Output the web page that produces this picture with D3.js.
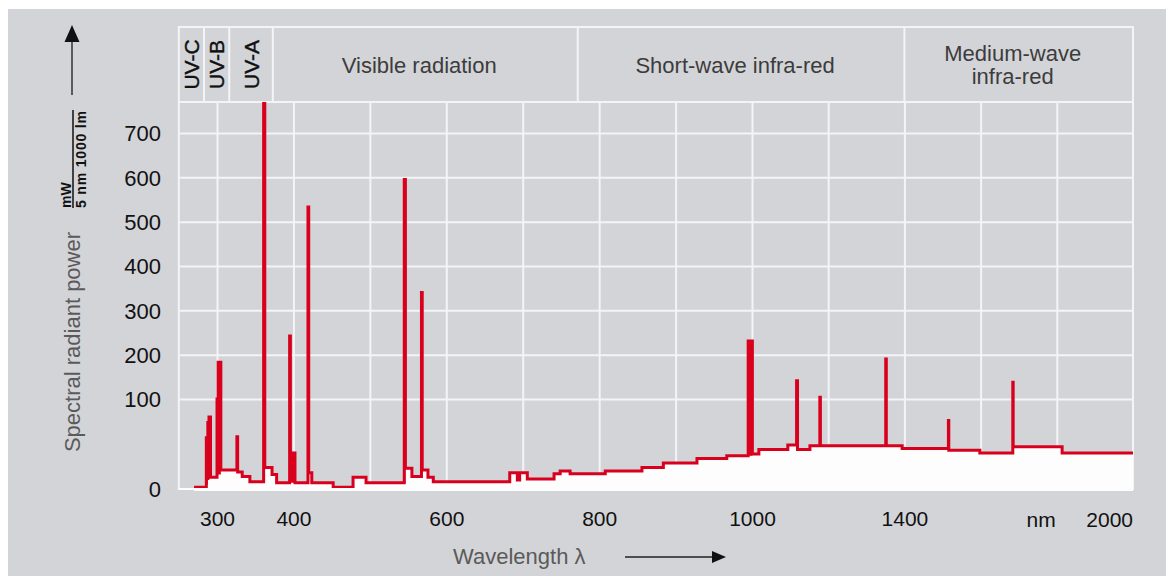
<!DOCTYPE html>
<html><head><meta charset="utf-8">
<script src="https://cdn.jsdelivr.net/npm/d3@7/dist/d3.min.js"></script>
<style>
html,body{margin:0;padding:0;background:#ffffff;}
svg{display:block;font-family:"Liberation Sans",Arial,Helvetica,sans-serif;}
</style></head><body>
<svg id="chart" width="1166" height="576"></svg>
<script>
// ---- data ----
const wavelength = [270, 286, 288, 289.5, 291.5, 300, 301.5, 305, 326, 327, 333, 343, 361, 362.5, 372, 378, 395, 396, 402, 419, 420, 424, 452, 478, 495, 545, 546.5, 555, 567.5, 568.5, 576, 583, 683, 693, 696, 706, 741, 749, 762, 808, 856, 884, 928, 967, 995, 1001, 1018, 1094, 1117, 1119.5, 1152, 1178, 1179.5, 1351, 1352.5, 1394, 1515.5, 1516.5, 1598, 1684.5, 1685.5, 1814, 2000];
const power      = [2, 57, 74, 80, 13, 100, 183, 21, 58, 19, 14, 8, 800, 24, 16, 7, 242, 40, 7, 533, 18, 7, 2, 13, 7, 595, 23, 14, 340, 21, 13, 8, 18, 10, 18, 11, 17, 20, 17, 20, 24, 29, 34, 37, 231, 39, 44, 49, 141, 44, 48, 104, 48, 190, 48, 45, 76, 43, 40, 138, 47, 40, 40];
const continuumWavelength = [270, 286, 288, 290, 300, 305, 327, 333, 343, 362.5, 372, 378, 420, 424, 452, 478, 495, 546.5, 555, 568.5, 576, 583, 683, 693, 696, 706, 741, 749, 762, 808, 856, 884, 928, 967, 1001, 1018, 1094, 1119.5, 1152, 1394, 1516.5, 1598, 1685.5, 1814, 2000];
const continuumPower      = [0, 5, 10, 13, 16, 21, 19, 14, 8, 24, 16, 7, 18, 7, 2, 13, 7, 23, 14, 21, 13, 8, 18, 10, 18, 11, 17, 20, 17, 20, 24, 29, 34, 37, 39, 44, 49, 44, 48, 45, 43, 40, 47, 40, 40];
const yTickValues = [0, 100, 200, 300, 400, 500, 600, 700];
const yGridValues = [100, 200, 300, 400, 500, 600, 700];
const xTickValues = [300, 400, 600, 800, 1000, 1400];
const xGridValues = [300, 400, 500, 600, 700, 800, 900, 1000, 1200, 1400, 1600, 1800];
const bandEdges = [250, 283, 316, 373, 772, 1400, 2000];
const bandNames = [["UV-C"], ["UV-B"], ["UV-A"], ["Visible radiation"], ["Short-wave infra-red"], ["Medium-wave", "infra-red"]];
const bandVertical = [true, true, true, false, false, false];

(function () {
// ---- layout ----
const svg = d3.select("#chart");
const pLeft = 178.8, pRight = 1133, bandTop = 27, pTop = 102, pBottom = 489;
const x = d3.scaleLinear().domain([250, 1000, 2000]).range([pLeft, 752, pRight]);
const y = d3.scaleLinear().domain([0, 100, 770]).range([pBottom, 399, pTop]);
const RED = "#d8001c", GRID = "#f4f4f6", BG = "#d3d4d8", WHITE = "#fdfdfe";

svg.append("rect").attr("x", 8).attr("y", 9).attr("width", 1158).attr("height", 567).attr("fill", BG);

// gridlines
svg.append("g").attr("transform", `translate(0,${pBottom})`)
  .call(d3.axisBottom(x).tickValues(xGridValues).tickSize(-(pBottom - pTop)).tickFormat(""))
  .call(g => g.select(".domain").remove())
  .call(g => g.selectAll("line").attr("stroke", GRID).attr("stroke-width", 2));
svg.append("g").attr("transform", `translate(${pLeft},0)`)
  .call(d3.axisLeft(y).tickValues(yGridValues).tickSize(-(pRight - pLeft)).tickFormat(""))
  .call(g => g.select(".domain").remove())
  .call(g => g.selectAll("line").attr("stroke", GRID).attr("stroke-width", 2));

// frame & band
const frame = svg.append("g").attr("stroke", GRID).attr("stroke-width", 2).attr("fill", "none");
frame.append("rect").attr("x", pLeft).attr("y", bandTop).attr("width", pRight - pLeft).attr("height", pBottom - bandTop);
frame.append("line").attr("x1", pLeft).attr("x2", pRight).attr("y1", pTop).attr("y2", pTop);
frame.selectAll("line.sep").data(bandEdges.slice(1, -1)).join("line").attr("class", "sep")
  .attr("x1", d => x(d)).attr("x2", d => x(d)).attr("y1", bandTop).attr("y2", pTop);

const bandG = svg.append("g");
bandNames.forEach((lines, i) => {
  const cx = (x(bandEdges[i]) + x(bandEdges[i + 1])) / 2;
  const cy = (bandTop + pTop) / 2;
  if (bandVertical[i]) {
    bandG.append("text").attr("transform", `translate(${cx + 7.5},${cy}) rotate(-90)`)
      .attr("text-anchor", "middle").attr("font-size", 21).attr("fill", "#111")
      .attr("stroke", "#111").attr("stroke-width", 0.4).text(lines[0]);
  } else {
    const n = lines.length;
    lines.forEach((t, j) => {
      bandG.append("text").attr("x", cx - 6).attr("y", cy + 8 + (j - (n - 1) / 2) * 23)
        .attr("text-anchor", "middle").attr("font-size", 22).attr("fill", "#3c3c3c").text(t);
    });
  }
});

// clip
svg.append("clipPath").attr("id", "plotclip").append("rect")
  .attr("x", pLeft).attr("y", pTop).attr("width", pRight - pLeft).attr("height", pBottom - pTop + 4);
const plot = svg.append("g").attr("clip-path", "url(#plotclip)");

const spec = wavelength.map((w, i) => [w, power[i]]);
const cont = continuumWavelength.map((w, i) => [w, continuumPower[i]]);

// solid red body of the lines
plot.append("path")
  .attr("d", d3.area().curve(d3.curveStepAfter).x(d => x(d[0])).y0(y(0)).y1(d => y(d[1]))(spec))
  .attr("fill", RED);
// continuum white fill
plot.append("path")
  .attr("d", d3.area().curve(d3.curveStepAfter).x(d => x(d[0])).y0(y(0) + 2).y1(d => y(d[1]))(cont))
  .attr("fill", WHITE);
svg.append("line").attr("x1", pLeft).attr("x2", pRight).attr("y1", pBottom).attr("y2", pBottom)
  .attr("stroke", WHITE).attr("stroke-width", 2);
// red outline
plot.append("path")
  .attr("d", d3.line().curve(d3.curveStepAfter).x(d => x(d[0])).y(d => y(d[1]))(spec))
  .attr("fill", "none").attr("stroke", RED).attr("stroke-width", 3).attr("stroke-linejoin", "miter");

// y tick labels
svg.append("g").attr("transform", `translate(161,0)`)
  .call(d3.axisLeft(y).tickValues(yTickValues).tickSize(0).tickPadding(0))
  .call(g => g.select(".domain").remove())
  .call(g => g.selectAll("text").attr("font-size", 22).attr("fill", "#111")
    .attr("font-family", '"Liberation Sans",Arial,sans-serif').attr("dy", "0.36em"));

// x tick labels
svg.append("g").attr("transform", `translate(0,${pBottom})`)
  .call(d3.axisBottom(x).tickValues(xTickValues).tickFormat(d3.format("d")).tickSize(0).tickPadding(22))
  .call(g => g.select(".domain").remove())
  .call(g => g.selectAll("text").attr("font-size", 21).attr("fill", "#111")
    .attr("font-family", '"Liberation Sans",Arial,sans-serif'));
svg.append("text").attr("x", x(1800) - 1).attr("y", 527).attr("text-anchor", "end")
  .attr("font-size", 21).attr("fill", "#111").text("nm");
svg.append("text").attr("x", x(2000)).attr("y", 527).attr("text-anchor", "end")
  .attr("font-size", 21).attr("fill", "#111").text("2000");

// y axis title, unit, arrow
svg.append("text").attr("transform", "translate(80,342) rotate(-90)").attr("text-anchor", "middle")
  .attr("font-size", 22).attr("fill", "#5a5a5a").text("Spectral radiant power");
svg.append("line").attr("x1", 73).attr("x2", 73).attr("y1", 110).attr("y2", 208).attr("stroke", "#111").attr("stroke-width", 1.5);
svg.append("text").attr("transform", "translate(70.5,208) rotate(-90)").attr("text-anchor", "start")
  .attr("font-size", 14).attr("font-weight", "bold").attr("fill", "#111").text("mW");
svg.append("text").attr("transform", "translate(86,208) rotate(-90)").attr("text-anchor", "start")
  .attr("font-size", 14).attr("font-weight", "bold").attr("fill", "#111").attr("textLength", 97).text("5 nm 1000 lm");
svg.append("line").attr("x1", 72).attr("x2", 72).attr("y1", 95).attr("y2", 40).attr("stroke", "#333").attr("stroke-width", 1.5);
svg.append("path").attr("d", "M72,25 L64.5,42 L79.5,42 Z").attr("fill", "#111");

// x axis title and arrow
svg.append("text").attr("x", 453).attr("y", 564).attr("font-size", 22).attr("fill", "#5a5a5a").text("Wavelength λ");
svg.append("line").attr("x1", 625).attr("x2", 714).attr("y1", 557).attr("y2", 557).attr("stroke", "#222").attr("stroke-width", 1.5);
svg.append("path").attr("d", "M726,557 L712,551 L712,563 Z").attr("fill", "#111");
})();
</script>
</body></html>
